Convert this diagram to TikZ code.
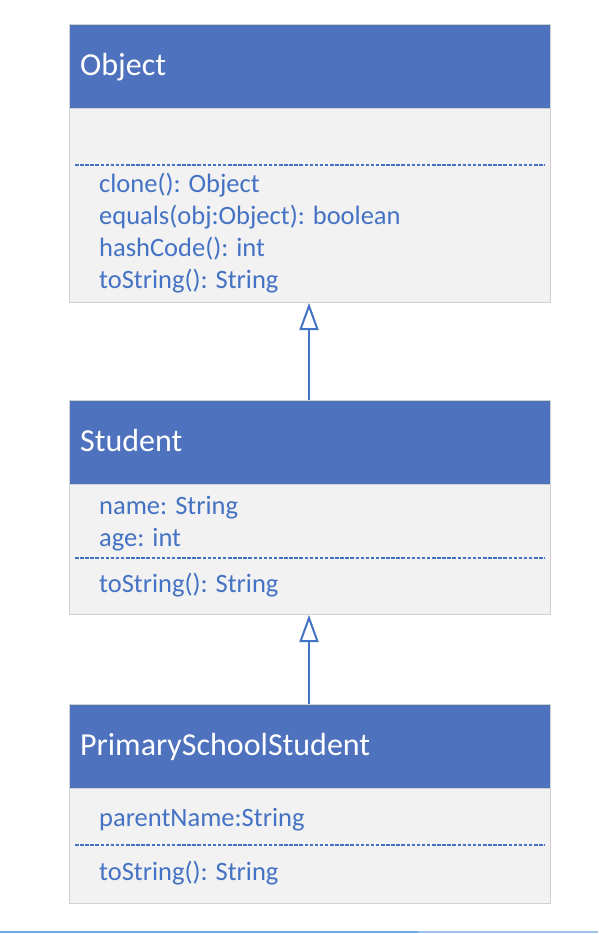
\documentclass[tikz,border=0pt]{standalone}
\usepackage{fontspec}
\setmainfont{Carlito}
\usetikzlibrary{arrows.meta}
\definecolor{hdr}{RGB}{79,114,190}
\definecolor{bodyfill}{RGB}{242,242,242}
\definecolor{bodyline}{RGB}{208,208,208}
\definecolor{txt}{RGB}{68,114,196}
\definecolor{baseline1}{RGB}{112,168,228}
\definecolor{baseline2}{RGB}{160,196,236}
\tikzset{
  hdrbox/.style={rectangle, fill=hdr, draw=bodyline, line width=0.8pt, anchor=north west, minimum width=481pt, minimum height=84pt, inner sep=0pt},
  bodybox/.style={rectangle, fill=bodyfill, draw=bodyline, line width=1pt, anchor=north west, minimum width=481pt, inner sep=0pt},
  hdrtext/.style={anchor=base west, text=white, font=\fontsize{32pt}{36pt}\selectfont, inner sep=0pt},
  membertext/.style={anchor=base west, text=txt, font=\fontsize{26.5pt}{32pt}\selectfont, inner sep=0pt},
  sepline/.style={draw=txt, line width=1.8pt, dash pattern=on 3.5pt off 1.6pt},
  inherit/.style={draw=txt, line width=2pt, -{Triangle[open, length=27pt, width=19pt, line width=2pt]}}
}
\begin{document}
\begin{tikzpicture}[x=1pt,y=-1pt]
\useasboundingbox (0,0) rectangle (598,934);
\fill[white] (0,0) rectangle (598,934);

% Object
\node[bodybox, minimum height=194pt] (objb) at (69,108) {};
\node[hdrbox] (objh) at (69,24) {};
\node[hdrtext] (objt) at (80,75) {Object};
\draw[sepline] (75,165) -- (545,165);
\node[membertext] (o1) at (99,192) {clone(): Object};
\node[membertext] (o2) at (99,224) {equals(obj:Object): boolean};
\node[membertext] (o3) at (99,256) {hashCode(): int};
\node[membertext] (o4) at (99,288) {toString(): String};

% Student
\node[bodybox, minimum height=130pt] (stb) at (69,484) {};
\node[hdrbox] (sth) at (69,400) {};
\node[hdrtext] (stt) at (80,451) {Student};
\node[membertext] (s1) at (99,514) {name: String};
\node[membertext] (s2) at (99,546) {age: int};
\draw[sepline] (75,558) -- (545,558);
\node[membertext] (s3) at (99,592) {toString(): String};

% PrimarySchoolStudent
\node[bodybox, minimum height=115pt] (psb) at (69,788) {};
\node[hdrbox] (psh) at (69,704) {};
\node[hdrtext] (pst) at (80,755) {PrimarySchoolStudent};
\node[membertext] (p1) at (99,826) {parentName:String};
\draw[sepline] (75,845) -- (545,845);
\node[membertext] (p2) at (99,880) {toString(): String};

% inheritance arrows
\draw[inherit] (sth.north -| 309,0) -- (objb.south -| 309,0);
\draw[inherit] (psh.north -| 309,0) -- (stb.south -| 309,0);

% bottom rule
\coordinate (r0) at (0,932);
\coordinate (r1) at (418,932);
\coordinate (r2) at (598,932);
\draw[baseline1, line width=2pt] (r0) -- (r1);
\draw[baseline2, line width=2pt] (r1) -- (r2);
\end{tikzpicture}
\end{document}
